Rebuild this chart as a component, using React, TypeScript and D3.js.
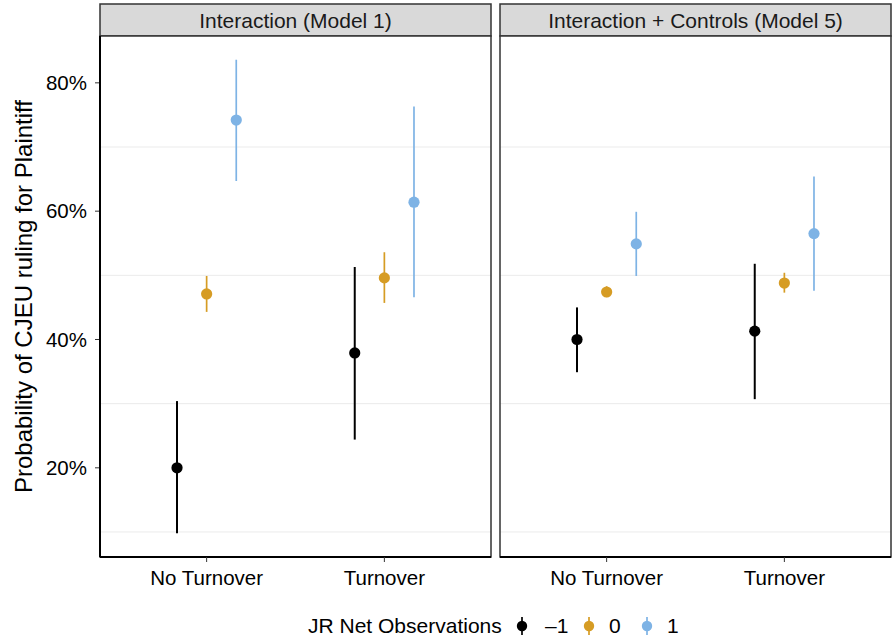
import React from 'react'
import * as d3 from 'd3'

// categories and groups
const turnover = ['No Turnover', 'Turnover']
const jrGroups = ['-1', '0', '1']
const jrLabels = ['\u20131', '0', '1']
const jrColors = ['#000000', '#D69C24', '#7EB3E5']
const panels = ['Interaction (Model 1)', 'Interaction + Controls (Model 5)']

// estimates (percent), in order NT -1, NT 0, NT 1, T -1, T 0, T 1
const model1Est = [20.0, 47.1, 74.2, 37.9, 49.6, 61.4]
const model1Lo = [9.8, 44.3, 64.7, 24.4, 45.7, 46.6]
const model1Hi = [30.4, 49.9, 83.6, 51.3, 53.6, 76.3]

const model5Est = [40.0, 47.4, 54.9, 41.3, 48.8, 56.5]
const model5Lo = [34.9, 46.6, 49.9, 30.7, 47.3, 47.6]
const model5Hi = [45.0, 48.3, 59.9, 51.8, 50.4, 65.4]

const yTicks = [20, 40, 60, 80]
const yGrid = [10, 30, 50, 70]

const font = '"Liberation Sans", Arial, Helvetica, sans-serif'

function buildRows(est: number[], lo: number[], hi: number[]) {
	return est.map((e, i) => ({
		cat: turnover[Math.floor(i / 3)],
		grp: i % 3,
		est: e,
		lo: lo[i],
		hi: hi[i],
	}))
}

const panelData = [
	buildRows(model1Est, model1Lo, model1Hi),
	buildRows(model5Est, model5Lo, model5Hi),
]

export default function App() {
	const width = 892
	const height = 640
	const panelTop = 36
	const panelBottom = 557
	const stripTop = 4
	const panelX = [100, 500]
	const panelW = 391

	const y = d3.scaleLinear().domain([6.1, 87.3]).range([panelBottom, panelTop])
	// discrete axis with ggplot-like expansion (0.6 units each side)
	const xUnit = d3.scaleLinear().domain([0.4, 2.6]).range([0, panelW])
	const dodge = d3.scalePoint().domain(jrGroups).range([-1 / 6, 1 / 6])

	return (
		<svg
			width={width}
			height={height}
			style={{ position: 'absolute', left: 0, top: 0, display: 'block', background: '#fff' }}
			fontFamily={font}
		>
			{/* y axis title */}
			<text
				transform={`translate(32,${(98 + 495) / 2}) rotate(-90)`}
				textAnchor="middle"
				fontSize={24}
				fill="#000"
			>
				Probability of CJEU ruling for Plaintiff
			</text>

			{/* y axis ticks + labels */}
			{yTicks.map(t => (
				<g key={t}>
					<line x1={95} x2={100} y1={y(t)} y2={y(t)} stroke="#333" strokeWidth={1} />
					<text x={87} y={y(t)} dy="0.35em" textAnchor="end" fontSize={20.5} fill="#000">
						{t}%
					</text>
				</g>
			))}

			{panels.map((title, p) => {
				const x0 = panelX[p]
				const rows = panelData[p]
				return (
					<g key={title} transform={`translate(${x0},0)`}>
						{/* strip */}
						<rect
							x={0}
							y={stripTop}
							width={panelW}
							height={panelTop - stripTop}
							fill="#D9D9D9"
							stroke="#333"
							strokeWidth={1.5}
						/>
						<text
							x={panelW / 2}
							y={(stripTop + panelTop) / 2}
							dy="0.36em"
							textAnchor="middle"
							fontSize={21}
							fill="#1a1a1a"
						>
							{title}
						</text>

						{/* panel background + grid */}
						<rect x={0} y={panelTop} width={panelW} height={panelBottom - panelTop} fill="#fff" />
						{yGrid.map(g => (
							<line key={g} x1={0} x2={panelW} y1={y(g)} y2={y(g)} stroke="#EBEBEB" strokeWidth={1} />
						))}

						{/* error bars + points */}
						{rows.map((r, i) => {
							const cx = xUnit(turnover.indexOf(r.cat) + 1 + (dodge(jrGroups[r.grp]) as number))
							return (
								<g key={i}>
									<line
										x1={cx}
										x2={cx}
										y1={y(r.lo)}
										y2={y(r.hi)}
										stroke={jrColors[r.grp]}
										strokeWidth={r.grp === 0 ? 2 : 1.7}
									/>
									<circle cx={cx} cy={y(r.est)} r={5.6} fill={jrColors[r.grp]} />
								</g>
							)
						})}

						{/* panel border */}
						<rect
							x={0}
							y={panelTop}
							width={panelW}
							height={panelBottom - panelTop}
							fill="none"
							stroke="#333"
							strokeWidth={1.5}
						/>
						{/* axis lines */}
						<line x1={0} x2={panelW} y1={panelBottom} y2={panelBottom} stroke="#000" strokeWidth={2} />
						{p === 0 && (
							<line x1={0} x2={0} y1={panelTop} y2={panelBottom} stroke="#000" strokeWidth={2} />
						)}

						{/* x ticks + labels */}
						{turnover.map((c, k) => (
							<g key={c}>
								<line
									x1={xUnit(k + 1)}
									x2={xUnit(k + 1)}
									y1={panelBottom}
									y2={panelBottom + 5}
									stroke="#333"
									strokeWidth={1}
								/>
								<text x={xUnit(k + 1)} y={578} dy="0.35em" textAnchor="middle" fontSize={20.5} fill="#000">
									{c}
								</text>
							</g>
						))}
					</g>
				)
			})}

			{/* legend */}
			<g transform="translate(0,626)">
				<text x={308} y={0} dy="0.35em" fontSize={21} fill="#000">
					JR Net Observations
				</text>
				{jrGroups.map((g, i) => {
					const kx = [522, 589, 647][i]
					const tx = [545, 609, 667][i]
					return (
						<g key={g}>
							<line x1={kx} x2={kx} y1={-9} y2={9} stroke={jrColors[i]} strokeWidth={1.7} />
							<circle cx={kx} cy={0} r={5.2} fill={jrColors[i]} />
							<text x={tx} y={0} dy="0.35em" fontSize={21} fill="#000">
								{jrLabels[i]}
							</text>
						</g>
					)
				})}
			</g>
		</svg>
	)
}
